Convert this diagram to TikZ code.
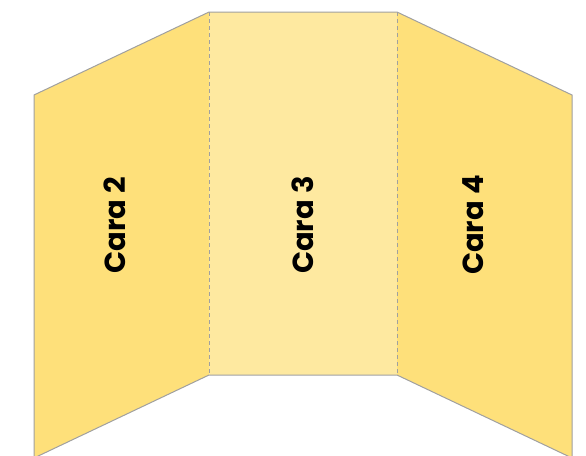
\documentclass[tikz,border=0pt]{standalone}
\usepackage{fontspec}
\setmainfont{Poppins}
\usepackage{xcolor}
\usepackage{tikz}
\definecolor{sideyellow}{HTML}{FEE07A}
\definecolor{midyellow}{HTML}{FEE9A0}
\definecolor{edgegray}{HTML}{A0A0A0}
\tikzset{
  edge/.style={draw=edgegray, line width=1pt},
  fold/.style={draw=edgegray, line width=1pt, dash pattern=on 4pt off 3pt},
  facelabel/.style={font=\fontsize{29}{29}\selectfont\bfseries, rotate=90}
}

\begin{document}
\begin{tikzpicture}[x=1pt, y=-1pt]
\useasboundingbox (0,0) rectangle (586,455);
% faces
\fill[sideyellow] (34,95) -- (209,12) -- (209,375) -- (34,458) -- cycle;
\fill[midyellow] (209,12) rectangle (397,375);
\fill[sideyellow] (397,12) -- (572,95) -- (572,458) -- (397,375) -- cycle;
% outline
\draw[edge] (209,375) -- (34,458) -- (34,95) -- (209,12) -- (397,12) -- (572,95) -- (572,458) -- (397,375) -- cycle;
\draw[fold] (209,12) -- (209,375);
\draw[fold] (397,12) -- (397,375);
% labels
\foreach \n/\x in {2/115, 3/303, 4/473} {
  \node[facelabel] (cara\n) at (\x,225) {Cara \n};
}
\end{tikzpicture}
\end{document}
